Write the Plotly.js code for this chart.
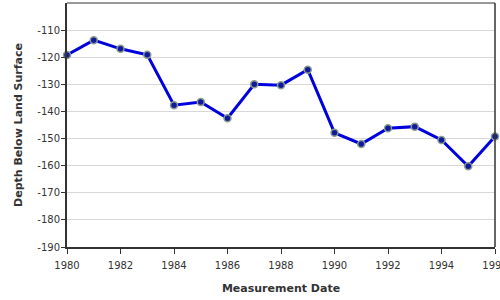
<!DOCTYPE html>
<html><head><meta charset="utf-8">
<script src="https://cdn.plot.ly/plotly-3.0.1.min.js"></script>
<style>html,body{margin:0;padding:0;background:#fff}#c{width:500px;height:300px}</style>
</head><body><div id="c"></div>
<script>
const years = [1980,1981,1982,1983,1984,1985,1986,1987,1988,1989,1990,1991,1992,1993,1994,1995,1996];
const depths = [-119.2,-113.7,-116.9,-119.1,-137.7,-136.5,-142.5,-130.0,-130.3,-124.6,-147.9,-152.0,-146.2,-145.6,-150.5,-160.2,-149.2];
const yTickVals = [-110,-120,-130,-140,-150,-160,-170,-180,-190];
const yTickText = ["-110","-120","-130","-140","-150","-160","-170","-180","-190"];
const xTickVals = [1980,1982,1984,1986,1988,1990,1992,1994,1996];

const trace = {
  x: years, y: depths, type: 'scatter', mode: 'lines+markers',
  line: {color: '#0000dd', width: 3},
  marker: {color: '#101a9a', size: 7, line: {color: '#8a9c8c', width: 1.5}},
  cliponaxis: false
};
const font = {family: 'DejaVu Sans, Verdana, sans-serif', size: 10, color: '#333'};
const layout = {
  width: 500, height: 300,
  margin: {l: 67, r: 5, t: 3, b: 53},
  paper_bgcolor: '#fff', plot_bgcolor: '#fff',
  showlegend: false,
  font: font,
  xaxis: {
    range: [1980, 1996], tickvals: xTickVals, ticktext: xTickVals.map(String),
    showgrid: false, zeroline: false,
    showline: true, linecolor: '#333', linewidth: 2, mirror: false,
    ticks: 'outside', ticklen: 5, tickcolor: '#333', tickwidth: 1,
    ticklabeloverflow: 'allow', ticklabelstandoff: 3,
    tickfont: {family: font.family, size: 10, color: '#333'},
    title: {text: 'Measurement Date', font: {family: font.family, size: 11, color: '#333', weight: 'bold'}, standoff: 14}
  },
  yaxis: {
    range: [-190, -100], tickvals: yTickVals, ticktext: yTickText,
    showgrid: true, gridcolor: '#d8d8d8', gridwidth: 1, zeroline: false,
    showline: true, linecolor: '#333', linewidth: 2,
    ticks: 'outside', ticklen: 4, tickcolor: '#333', tickwidth: 1,
    ticklabelstandoff: -1,
    tickfont: {family: font.family, size: 10, color: '#333'},
    title: {text: 'Depth Below Land Surface', font: {family: font.family, size: 11, color: '#333', weight: 'bold'}, standoff: 12}
  },
  shapes: [
    {type: 'line', xref: 'paper', yref: 'paper', x0: 0, x1: 1, y0: 1, y1: 1, line: {color: '#333', width: 1}},
    {type: 'line', xref: 'paper', yref: 'paper', x0: 1, x1: 1, y0: 0, y1: 1, line: {color: '#333', width: 1.5}}
  ]
};
Plotly.newPlot('c', [trace], layout, {staticPlot: true, displayModeBar: false});
</script></body></html>
